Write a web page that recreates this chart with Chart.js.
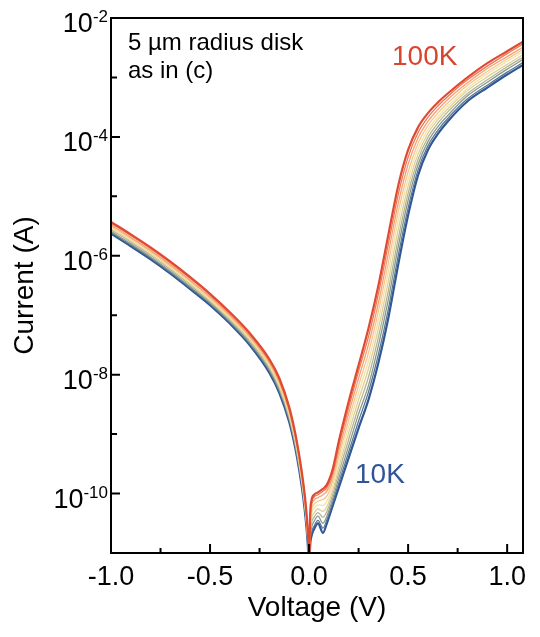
<!DOCTYPE html>
<html>
<head>
<meta charset="utf-8">
<script src="https://cdn.jsdelivr.net/npm/chart.js@4.4.1/dist/chart.umd.min.js"></script>
<style>
  html, body { margin: 0; padding: 0; background: #fff; }
  canvas { display: block; }
</style>
</head>
<body>
<canvas id="chart" width="540" height="637"></canvas>
<script>
// bias voltage (V), shared by every temperature
const voltage = [-1.0, -0.9, -0.8, -0.7, -0.6, -0.5, -0.4, -0.3, -0.2, -0.15, -0.1, -0.07, -0.05, -0.03, -0.015, -0.005, 0,
  0.005, 0.012, 0.025, 0.045, 0.07, 0.09, 0.12, 0.15, 0.2, 0.25,
  0.3, 0.35, 0.4, 0.45, 0.5, 0.55, 0.6, 0.65, 0.7, 0.8, 0.9, 1.0, 1.08];

const temperatures = ["100K", "90K", "80K", "70K", "60K", "50K", "40K", "30K", "20K", "10K"];

// log10 of |current| (A)
const logI100 = [-5.43,-5.64,-5.86,-6.10,-6.36,-6.64,-6.95,-7.30,-7.74,-8.06,-8.55,-8.98,-9.35,-9.80,-10.25,-10.75,-11.40,
  -10.40,-10.12,-10.02,-9.98,-9.92,-9.85,-9.58,-9.12,-8.45,-7.84,
  -7.22,-6.50,-5.65,-4.82,-4.22,-3.84,-3.60,-3.42,-3.27,-3.00,-2.76,-2.56,-2.40];
const logI90 = [-5.45,-5.66,-5.88,-6.12,-6.38,-6.66,-6.97,-7.32,-7.77,-8.09,-8.58,-9.01,-9.38,-9.83,-10.28,-10.77,-11.40,
  -10.46,-10.17,-10.06,-10.02,-9.96,-9.90,-9.64,-9.20,-8.55,-7.94,
  -7.36,-6.64,-5.81,-4.97,-4.34,-3.93,-3.67,-3.48,-3.32,-3.04,-2.81,-2.60,-2.44];
const logI80 = [-5.48,-5.69,-5.91,-6.15,-6.41,-6.69,-7.00,-7.35,-7.79,-8.12,-8.61,-9.04,-9.41,-9.86,-10.31,-10.80,-11.40,
  -10.52,-10.22,-10.11,-10.07,-10.02,-9.96,-9.70,-9.29,-8.65,-8.06,
  -7.49,-6.79,-5.96,-5.12,-4.46,-4.02,-3.74,-3.54,-3.37,-3.09,-2.85,-2.65,-2.49];
const logI70 = [-5.50,-5.71,-5.93,-6.17,-6.43,-6.71,-7.02,-7.37,-7.82,-8.14,-8.63,-9.06,-9.43,-9.88,-10.33,-10.82,-11.40,
  -10.57,-10.29,-10.18,-10.13,-10.10,-10.04,-9.78,-9.38,-8.76,-8.18,
  -7.63,-6.93,-6.12,-5.26,-4.59,-4.11,-3.81,-3.60,-3.43,-3.13,-2.90,-2.69,-2.53];
const logI60 = [-5.52,-5.73,-5.95,-6.19,-6.45,-6.73,-7.04,-7.39,-7.84,-8.17,-8.66,-9.09,-9.46,-9.91,-10.36,-10.84,-11.40,
  -10.62,-10.36,-10.25,-10.19,-10.20,-10.13,-9.86,-9.47,-8.87,-8.30,
  -7.77,-7.08,-6.27,-5.41,-4.71,-4.20,-3.88,-3.66,-3.48,-3.18,-2.94,-2.73,-2.57];
const logI50 = [-5.54,-5.75,-5.97,-6.21,-6.47,-6.75,-7.06,-7.41,-7.87,-8.20,-8.69,-9.12,-9.49,-9.94,-10.39,-10.86,-11.40,
  -10.68,-10.43,-10.33,-10.26,-10.30,-10.22,-9.94,-9.56,-8.98,-8.42,
  -7.90,-7.22,-6.43,-5.56,-4.83,-4.29,-3.94,-3.71,-3.53,-3.22,-2.99,-2.78,-2.62];
const logI40 = [-5.56,-5.77,-5.99,-6.23,-6.49,-6.77,-7.08,-7.43,-7.89,-8.23,-8.72,-9.15,-9.52,-9.97,-10.42,-10.88,-11.40,
  -10.75,-10.50,-10.40,-10.32,-10.40,-10.30,-10.01,-9.65,-9.09,-8.54,
  -8.04,-7.37,-6.59,-5.71,-4.95,-4.38,-4.01,-3.77,-3.58,-3.27,-3.04,-2.82,-2.66];
const logI30 = [-5.59,-5.80,-6.02,-6.26,-6.52,-6.79,-7.10,-7.46,-7.92,-8.25,-8.74,-9.17,-9.54,-9.99,-10.44,-10.91,-11.40,
  -10.80,-10.58,-10.47,-10.38,-10.50,-10.38,-10.08,-9.74,-9.20,-8.66,
  -8.18,-7.51,-6.74,-5.85,-5.07,-4.47,-4.08,-3.83,-3.64,-3.31,-3.08,-2.86,-2.70];
const logI20 = [-5.61,-5.82,-6.04,-6.28,-6.54,-6.81,-7.12,-7.48,-7.94,-8.28,-8.77,-9.20,-9.57,-10.02,-10.47,-10.93,-11.40,
  -10.85,-10.66,-10.55,-10.45,-10.58,-10.44,-10.14,-9.82,-9.30,-8.78,
  -8.29,-7.66,-6.90,-6.00,-5.20,-4.56,-4.15,-3.89,-3.69,-3.36,-3.13,-2.91,-2.75];
const logI10 = [-5.63,-5.84,-6.06,-6.30,-6.56,-6.83,-7.14,-7.50,-7.97,-8.31,-8.80,-9.23,-9.60,-10.05,-10.50,-10.95,-11.40,
  -10.90,-10.72,-10.60,-10.50,-10.66,-10.50,-10.20,-9.90,-9.40,-8.90,
  -8.42,-7.80,-7.05,-6.15,-5.32,-4.65,-4.22,-3.95,-3.74,-3.40,-3.17,-2.95,-2.79];

const xMajorTicks = [-1.0, -0.5, 0.0, 0.5, 1.0];
const xMinorTicks = [-0.75, -0.25, 0.25, 0.75];
const yMajorExponents = [-10, -8, -6, -4, -2];
const yMinorExponents = [-9, -7, -5, -3];

const series = [logI100, logI90, logI80, logI70, logI60, logI50, logI40, logI30, logI20, logI10];
const colors = ["#df4a33", "#ee7752", "#f4a075", "#f7c68d", "#f4e2a4", "#dcd19a", "#b4b490", "#88988f", "#5b7590", "#2e5896"];

const FONT = "'Liberation Sans', Arial, Helvetica, sans-serif";

const datasets = series.map((logs, i) => ({
  label: temperatures[i],
  data: voltage.map((v, j) => ({ x: v, y: Math.pow(10, logs[j]) })),
  borderColor: colors[i],
  borderWidth: (i === 0 || i === series.length - 1) ? 2.2 : 1.3,
  pointRadius: 0,
  fill: false,
  showLine: true,
  cubicInterpolationMode: "monotone"
}));

// frame, inward ticks, 10^n labels and text notes
const framePlugin = {
  id: "frame",
  afterDraw(chart) {
    const { ctx, chartArea: a, scales: { x, y } } = chart;
    ctx.save();
    ctx.strokeStyle = "#000";
    ctx.lineWidth = 2;
    ctx.strokeRect(a.left, a.top, a.right - a.left, a.bottom - a.top);

    ctx.beginPath();
    xMajorTicks.forEach(v => {
      const px = x.getPixelForValue(v);
      ctx.moveTo(px, a.bottom); ctx.lineTo(px, a.bottom - 9);
    });
    xMinorTicks.forEach(v => {
      const px = x.getPixelForValue(v);
      ctx.moveTo(px, a.bottom); ctx.lineTo(px, a.bottom - 5);
    });
    yMajorExponents.forEach(e => {
      const py = y.getPixelForValue(Math.pow(10, e));
      ctx.moveTo(a.left, py); ctx.lineTo(a.left + 9, py);
    });
    yMinorExponents.forEach(e => {
      const py = y.getPixelForValue(Math.pow(10, e));
      ctx.moveTo(a.left, py); ctx.lineTo(a.left + 6, py);
    });
    ctx.stroke();

    ctx.fillStyle = "#000";
    ctx.textAlign = "right";
    ctx.textBaseline = "alphabetic";
    yMajorExponents.forEach(e => {
      const py = y.getPixelForValue(Math.pow(10, e));
      const expText = String(e);
      ctx.font = "17px " + FONT;
      const ew = ctx.measureText(expText).width;
      ctx.fillText(expText, a.left - 3, py + 4);
      ctx.font = "27px " + FONT;
      ctx.fillText("10", a.left - 3 - ew, py + 14);
    });

    ctx.textAlign = "left";
    ctx.font = "24px " + FONT;
    ctx.fillText("5 µm radius disk", a.left + 17, a.top + 32);
    ctx.fillText("as in (c)", a.left + 17, a.top + 60);

    ctx.font = "28px " + FONT;
    ctx.fillStyle = "#d8452f";
    ctx.fillText("100K", a.left + 281, a.top + 47);
    ctx.fillStyle = "#2f5597";
    ctx.fillText("10K", a.left + 244, a.top + 465);
    ctx.restore();
  }
};

new Chart(document.getElementById("chart"), {
  type: "scatter",
  data: { datasets },
  options: {
    responsive: false,
    animation: false,
    devicePixelRatio: 1,
    layout: { padding: { left: 0, right: 17, top: 18, bottom: 0 } },
    plugins: { legend: { display: false }, tooltip: { enabled: false } },
    scales: {
      x: {
        type: "linear",
        min: -1.0,
        max: 1.08,
        grid: { display: false, drawTicks: false },
        border: { display: false },
        afterBuildTicks: scale => { scale.ticks = xMajorTicks.map(v => ({ value: v })); },
        afterFit: scale => { scale.height = 84; },
        ticks: {
          padding: 8,
          color: "#000",
          font: { family: FONT, size: 27 },
          maxRotation: 0,
          callback: v => Number(v).toFixed(1)
        },
        title: {
          display: true,
          text: "Voltage (V)",
          color: "#000",
          font: { family: FONT, size: 28 },
          padding: { top: 0, bottom: 12 }
        }
      },
      y: {
        type: "logarithmic",
        min: 1e-11,
        max: 1e-2,
        grid: { display: false, drawTicks: false },
        border: { display: false },
        afterBuildTicks: scale => { scale.ticks = yMajorExponents.map(e => ({ value: Math.pow(10, e) })); },
        afterFit: scale => { scale.width = 111; },
        ticks: { display: false },
        title: {
          display: true,
          text: "Current (A)",
          color: "#000",
          font: { family: FONT, size: 28 },
          padding: { top: 8, bottom: 0 }
        }
      }
    }
  },
  plugins: [framePlugin]
});
</script>
</body>
</html>
